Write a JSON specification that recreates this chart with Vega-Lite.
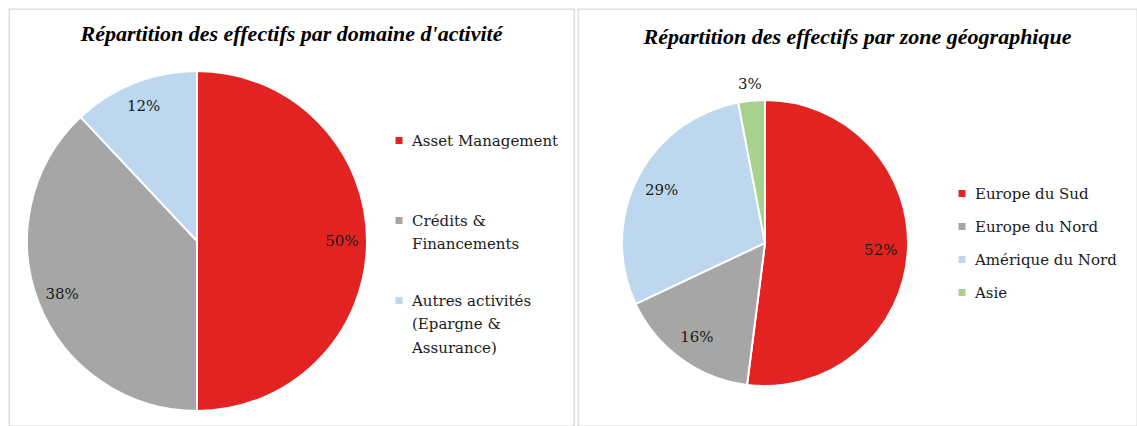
{
  "$schema": "https://vega.github.io/schema/vega-lite/v6.json",
  "padding": {"left": 8, "top": 8, "right": 0, "bottom": 0},
  "spacing": 2,
  "resolve": {"scale": {"color": "independent", "theta": "independent"}, "legend": {"color": "independent"}},
  "config": {
    "title": {"font": "Liberation Serif", "fontSize": 22, "fontStyle": "italic", "fontWeight": "bold", "color": "#000000", "anchor": "middle", "baseline": "alphabetic", "offset": -37},
    "style": {"guide-label": {"lineHeight": 23.5}},
    "legend": {
      "orient": "none", "title": null, "symbolType": "M-1,1H1V3H-1Z", "symbolSize": 49, "symbolStrokeWidth": 0,
      "labelFont": "DejaVu Serif", "labelFontSize": 15, "labelColor": "#1a1a1a", "labelOffset": 5.5,
      "labelBaseline": "top", "labelLimit": 400, "rowPadding": 10, "gridAlign": "all", "padding": 0
    }
  },
  "hconcat": [
    {
      "width": 565,
      "height": 417,
      "view": {"stroke": "#D9D9D9", "strokeWidth": 1.3},
      "title": {"text": "Répartition des effectifs par domaine d'activité"},
      "data": {"values": [
        {"domaine": "Asset Management", "part": 0.50, "rang": 1},
        {"domaine": "Crédits & Financements", "part": 0.38, "rang": 2},
        {"domaine": "Autres activités (Epargne & Assurance)", "part": 0.12, "rang": 3}
      ]},
      "layer": [
        {
          "mark": {"type": "arc", "outerRadius": 170, "x": 188, "y": 232, "stroke": "#FFFFFF", "strokeWidth": 2},
          "encoding": {
            "theta": {"field": "part", "type": "quantitative", "stack": true},
            "order": {"field": "rang", "type": "quantitative"},
            "color": {
              "field": "domaine", "type": "nominal",
              "scale": {"domain": ["Asset Management", "Crédits & Financements", "Autres activités (Epargne & Assurance)"], "range": ["#E32322", "#A6A6A6", "#BDD7EE"]},
              "legend": {
                "legendX": 382.5, "legendY": 117,
                "labelExpr": "datum.label == 'Crédits & Financements' ? ['Crédits &', 'Financements'] : datum.label == 'Autres activités (Epargne & Assurance)' ? ['Autres activités', '(Epargne &', 'Assurance)'] : datum.label"
              }
            }
          }
        },
        {
          "mark": {"type": "text", "radius": 145, "x": 188, "y": 232, "font": "DejaVu Serif", "fontSize": 15, "color": "#1a1a1a"},
          "encoding": {
            "theta": {"field": "part", "type": "quantitative", "stack": true},
            "order": {"field": "rang", "type": "quantitative"},
            "text": {"field": "part", "type": "quantitative", "format": ".0%"}
          }
        }
      ]
    },
    {
      "width": 559,
      "height": 417,
      "view": {"stroke": "#D9D9D9", "strokeWidth": 1.3},
      "title": {"text": "Répartition des effectifs par zone géographique", "offset": -40},
      "data": {"values": [
        {"zone": "Europe du Sud", "part": 0.52, "rang": 1},
        {"zone": "Europe du Nord", "part": 0.16, "rang": 2},
        {"zone": "Amérique du Nord", "part": 0.29, "rang": 3},
        {"zone": "Asie", "part": 0.03, "rang": 4}
      ]},
      "layer": [
        {
          "mark": {"type": "arc", "outerRadius": 143, "x": 187, "y": 234, "stroke": "#FFFFFF", "strokeWidth": 2},
          "encoding": {
            "theta": {"field": "part", "type": "quantitative", "stack": true},
            "order": {"field": "rang", "type": "quantitative"},
            "color": {
              "field": "zone", "type": "nominal",
              "scale": {"domain": ["Europe du Sud", "Europe du Nord", "Amérique du Nord", "Asie"], "range": ["#E32322", "#A6A6A6", "#BDD7EE", "#A9D18E"]},
              "legend": {"legendX": 376.5, "legendY": 170}
            }
          }
        },
        {
          "mark": {"type": "text", "radius": 116, "x": 187, "y": 234, "font": "DejaVu Serif", "fontSize": 15, "color": "#1a1a1a"},
          "encoding": {
            "theta": {"field": "part", "type": "quantitative", "stack": true},
            "order": {"field": "rang", "type": "quantitative"},
            "text": {"condition": {"test": "datum.part >= 0.05", "field": "part", "type": "quantitative", "format": ".0%"}, "value": ""}
          }
        },
        {
          "mark": {"type": "text", "radius": 160, "x": 187, "y": 234, "font": "DejaVu Serif", "fontSize": 15, "color": "#1a1a1a"},
          "encoding": {
            "theta": {"field": "part", "type": "quantitative", "stack": true},
            "order": {"field": "rang", "type": "quantitative"},
            "text": {"condition": {"test": "datum.part < 0.05", "field": "part", "type": "quantitative", "format": ".0%"}, "value": ""}
          }
        }
      ]
    }
  ]
}
